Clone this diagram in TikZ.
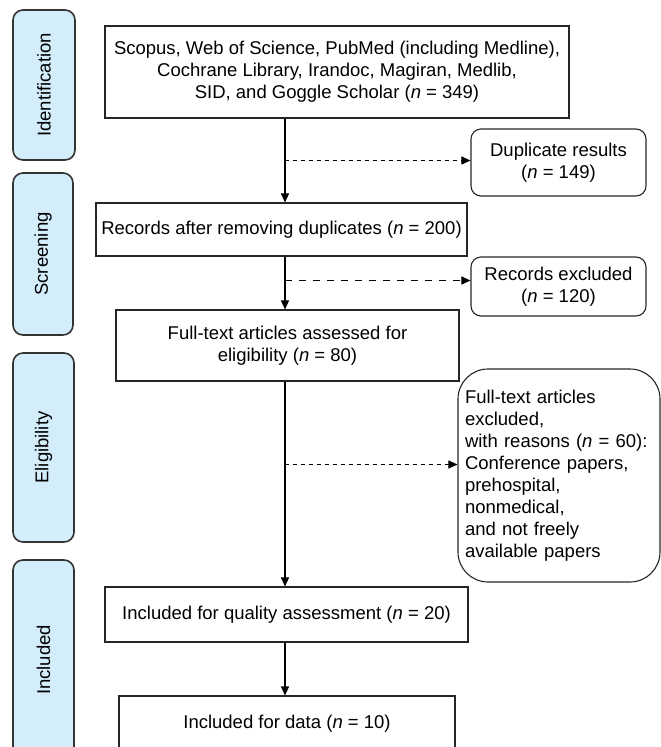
\documentclass[tikz,border=0pt]{standalone}
\usepackage{fontspec}
\setmainfont{Liberation Sans}
\usetikzlibrary{arrows.meta,positioning}
\definecolor{phaseblue}{HTML}{D3EDFB}
\tikzset{
    box/.style={draw=black!85,line width=1.1pt,align=center,inner sep=0pt},
    sidebox/.style={draw=black!85,line width=1.1pt,rounded corners=10pt,inner sep=0pt},
    phase/.style={draw=black!80,fill=phaseblue,line width=1.6pt,rounded corners=10pt,rotate=90,inner sep=0pt},
    flow/.style={-{Triangle[length=9pt,width=8pt]},line width=1.1pt},
    skip/.style={-{Triangle[length=9pt,width=8pt]},line width=0.9pt,dash pattern=on 4pt off 4pt}
}

\begin{document}
\begin{tikzpicture}[x=1pt,y=-1pt,font=\fontsize{18.5}{22}\selectfont]

    \useasboundingbox (0,0) rectangle (661,747);
    \clip (0,0) rectangle (661,747);

    % phases
    \node[phase,minimum width=150pt,minimum height=62pt] (ident) at (44,85)    {Identification};
    \node[phase,minimum width=162pt,minimum height=60pt] (screen) at (43,254)  {Screening};
    \node[phase,minimum width=189pt,minimum height=61pt] (elig) at (43.5,447.5) {Eligibility};
    \node[phase,minimum width=200pt,minimum height=61pt] (incl) at (43.5,660)  {Included};

    % main column
    \node[box,minimum width=464pt,minimum height=92pt] (src) at (337,72)
        {Scopus, Web of Science, PubMed (including Medline),\\
         Cochrane Library, Irandoc, Magiran, Medlib,\\
         SID, and Goggle Scholar (\textit{n} = 349)};
    \node[box,minimum width=371pt,minimum height=53pt] (rec) at (281.5,229.5)
        {Records after removing duplicates (\textit{n} = 200)};
    \node[box,minimum width=343pt,minimum height=71pt] (full) at (287.5,345.5)
        {Full-text articles assessed for\\ eligibility (\textit{n} = 80)};
    \node[box,minimum width=363pt,minimum height=55pt] (qual) at (286.5,614.5)
        {Included for quality assessment (\textit{n} = 20)};
    \node[box,minimum width=336pt,minimum height=56pt] (data) at (287,724)
        {Included for data (\textit{n} = 10)};

    % exclusions
    \node[sidebox,minimum width=175pt,minimum height=67pt,align=center] (dup) at (558.5,162.5)
        {Duplicate results\\ (\textit{n} = 149)};
    \node[sidebox,minimum width=175pt,minimum height=59pt,align=center] (excl) at (558.5,286.5)
        {Records excluded\\ (\textit{n} = 120)};
    \node[sidebox,rounded corners=30pt,minimum width=202pt,minimum height=213pt,
          text width=188pt,align=left] (reas) at (559,475.5)
        {Full-text articles\\ excluded,\\ with reasons (\textit{n} = 60):\\
         Conference papers,\\ prehospital,\\ nonmedical,\\ and not freely\\ available papers};

    \coordinate (spine) at (285,0);

    \draw[flow] (src.south -| spine)  -- (rec.north -| spine);
    \draw[flow] (rec.south -| spine)  -- (full.north -| spine);
    \draw[flow] (full.south -| spine) -- (qual.north -| spine);
    \draw[flow] (qual.south -| spine) -- (data.north -| spine);

    \draw[skip] ([yshift=2pt]dup.west -| spine) -- ([yshift=2pt]dup.west);
    \draw[skip,dash pattern=on 7pt off 7pt] ([yshift=6pt]excl.west -| spine) -- ([yshift=6pt]excl.west);
    \draw[skip] ([yshift=11pt]reas.west -| spine) -- ([yshift=11pt]reas.west);

\end{tikzpicture}
\end{document}
